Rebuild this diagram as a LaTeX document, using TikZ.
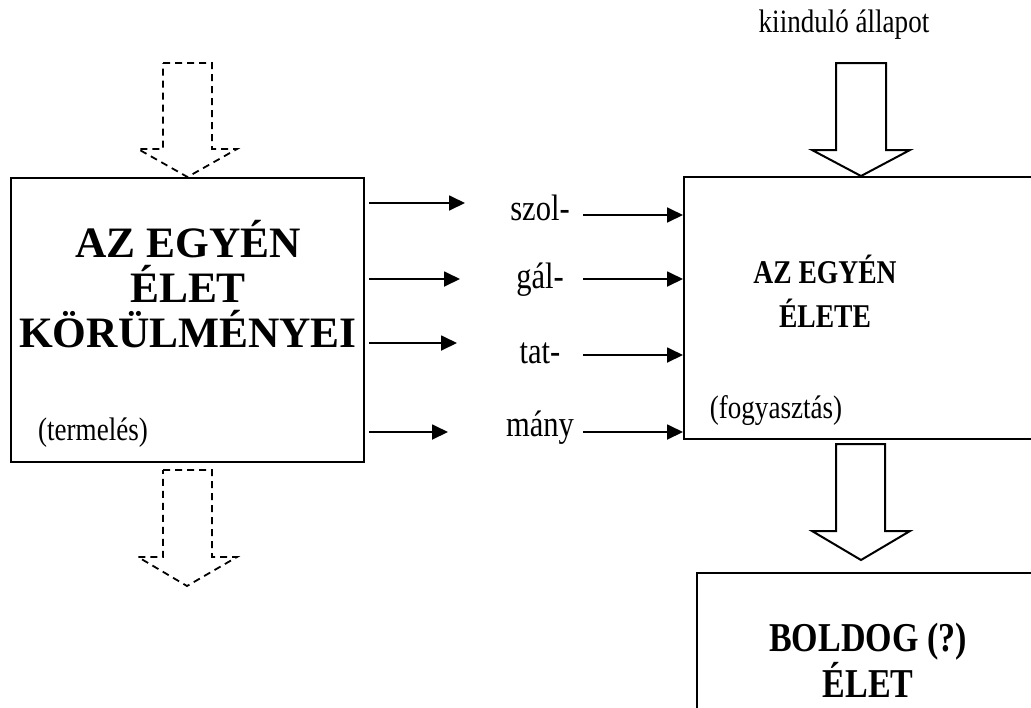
\documentclass[tikz,border=0pt]{standalone}
\usepackage{fontspec}
\setmainfont{Liberation Serif}
\newfontfamily\tallfont[FakeStretch=0.83]{Liberation Serif}
\usetikzlibrary{arrows.meta,positioning}

\tikzset{
  box/.style={draw,line width=1pt,inner sep=0pt},
  title/.style={font=\tallfont\fontsize{16.6}{22}\selectfont\bfseries,align=center},
  word/.style={font=\tallfont\fontsize{18.4}{20}\selectfont,inner sep=0pt},
  note/.style={font=\tallfont\fontsize{16.3}{18}\selectfont,inner sep=0pt},
  flow/.style={line width=0.9pt,-{Triangle[length=8pt,width=7.5pt]}},
  bigarrow/.style={line width=1pt,line join=miter},
  ghost/.style={line width=0.9pt,dash pattern=on 3.5pt off 2.5pt}
}

\begin{document}
\begin{tikzpicture}[x=0.5pt,y=-0.5pt]
    \useasboundingbox (0,0) rectangle (1031,707);
    \clip (0,0) rectangle (1031,707);
    % boxes
    \node[box,minimum width=176.5pt,minimum height=142pt] (kor) at (187.5,320) {};
    \node[box,minimum width=188pt,minimum height=131pt] (elet) at (872,308) {};
    \node[box,minimum width=181.5pt,minimum height=93.5pt] (bold) at (878.5,666.5) {};
    \node[title,font=\fontsize{21.7}{22.5}\selectfont\bfseries] (korT) at (188,284) {AZ EGYÉN\\ÉLET\\KÖRÜLMÉNYEI};
    \node[title] (eletT) at (825,291) {AZ EGYÉN\\ÉLETE};
    \node[title,font=\tallfont\fontsize{20.5}{19.5}\selectfont\bfseries] (boldT) at (868,660) {BOLDOG (?)\\ÉLET};
    \node[note] (term) at (93,433) {(termelés)};
    \node[note] (fogy) at (776,411) {(fogyasztás)};
    \node[note] (kiin) at (844,25) {kiinduló állapot};
    % szolgáltatmány
    \node[word] (szol) at (540,208) {szol-};
    \node[word] (gal) at (540,280) {gál-};
    \node[word] (tat) at (540,353) {tat-};
    \node[word] (many) at (540,428) {mány};
    % outgoing arrows
    \coordinate (o1) at (465,203);
    \coordinate (o2) at (460,279);
    \coordinate (o3) at (457,343);
    \coordinate (o4) at (448,432);
    \foreach \o in {o1,o2,o3,o4}
        \draw[flow] ([xshift=2pt]\o -| kor.east) -- (\o);
    % incoming arrows
    \coordinate (i1) at (583,215);
    \coordinate (i2) at (583,279);
    \coordinate (i3) at (583,355);
    \coordinate (i4) at (583,432);
    \foreach \i in {i1,i2,i3,i4}
        \draw[flow] (\i) -- (\i -| elet.west);
    % block arrows
    \draw[bigarrow] (836,63) -- (886,63) -- (886,150) -- (910,150) -- (elet.north -| 861,0) -- (812,150) -- (836,150) -- cycle;
    \draw[bigarrow] (836,444) -- (885,444) -- (885,531) -- (910,531) -- (861,560) -- (812,531) -- (836,531) -- cycle;
    \draw[ghost] (163,63) -- (212,63) -- (212,149) -- (237,149) -- (kor.north) -- (138,149) -- (163,149) -- cycle;
    \draw[ghost] (163,470) -- (212,470) -- (212,557) -- (237,557) -- (187,586) -- (138,557) -- (163,557) -- cycle;
\end{tikzpicture}
\end{document}
